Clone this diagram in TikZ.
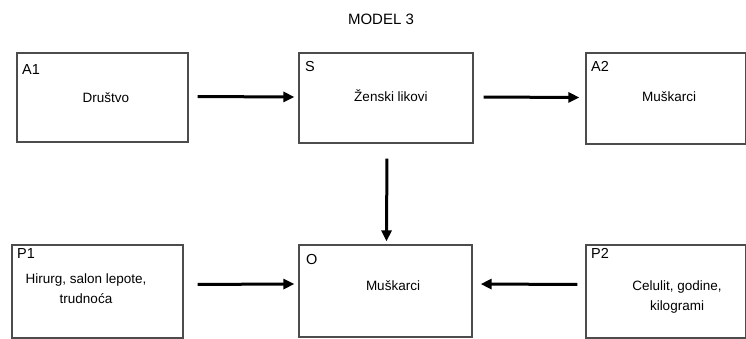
\documentclass[tikz,border=0pt]{standalone}
\usepackage{fontspec}
\setmainfont{Liberation Sans}
\usetikzlibrary{arrows.meta}
\begin{document}
\begin{tikzpicture}[x=1pt,y=-1pt,
  box/.style={draw=black!70,line width=1.3pt,rectangle,inner sep=0pt},
  tag/.style={anchor=north west,inner sep=0pt,font=\fontsize{14.5}{16}\selectfont},
  body/.style={align=center,inner sep=0pt,font=\fontsize{13.5}{20}\selectfont},
  flow/.style={line width=3pt,-{Triangle[length=11pt,width=10pt]}}]
\useasboundingbox (0,0) rectangle (746,339);

% title
\node[font=\fontsize{15}{17}\selectfont] (title) at (381,19) {MODEL 3};

% upper row
\node[box,minimum width=171pt,minimum height=89pt] (a1) at (102.5,97.5) {};
\node[box,minimum width=174pt,minimum height=90pt] (s) at (386,98) {};
\node[box,minimum width=160pt,minimum height=91pt] (a2) at (666,98.5) {};

% lower row
\node[box,minimum width=171pt,minimum height=93pt] (p1) at (97.5,291.5) {};
\node[box,minimum width=173pt,minimum height=92pt] (o) at (385.5,291) {};
\node[box,minimum width=160pt,minimum height=93pt] (p2) at (666,291.5) {};

% corner tags
\node[tag] (a1tag) at (22,64) {A1};
\node[tag] (stag) at (305,61) {S};
\node[tag] (a2tag) at (591,61) {A2};
\node[tag] (p1tag) at (17,248) {P1};
\node[tag] (otag) at (306,254) {O};
\node[tag] (p2tag) at (591,248) {P2};

% box contents
\node[body] (a1txt) at (106,98) {Društvo};
\node[body] (stxt) at (391,96) {Ženski likovi};
\node[body] (a2txt) at (669,97) {Muškarci};
\node[body] (p1txt) at (86,289) {Hirurg, salon lepote,\\trudnoća};
\node[body] (otxt) at (393,286) {Muškarci};
\node[body] (p2txt) at (677,297) {Celulit, godine,\\kilogrami};

% connectors
\draw[flow,shorten <=9pt,shorten >=4pt] ([yshift=1pt]a1.east) -- ([yshift=1pt]s.west);
\draw[flow,shorten <=10pt,shorten >=6pt] ([yshift=1pt]s.east) -- ([yshift=1pt]a2.west);
\draw[flow,shorten <=15pt,shorten >=3pt] ([xshift=1pt]s.south) -- ([xshift=1pt]o.north);
\draw[flow,shorten <=14pt,shorten >=4pt] ([yshift=7pt]p1.east) -- ([yshift=7pt]o.west);
\draw[flow,shorten <=8pt,shorten >=8pt] ([yshift=7pt]p2.west) -- ([yshift=7pt]o.east);
\end{tikzpicture}
\end{document}
